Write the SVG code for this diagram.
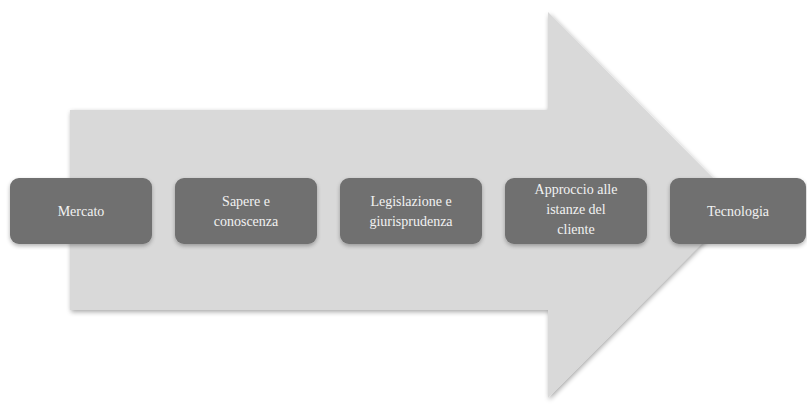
<svg xmlns="http://www.w3.org/2000/svg" width="807" height="411" viewBox="0 0 807 411">
<defs>
<filter id="sh" x="-10%" y="-10%" width="130%" height="130%">
<feGaussianBlur in="SourceAlpha" stdDeviation="2.5"/>
<feOffset dx="1" dy="2" result="b"/>
<feComponentTransfer><feFuncA type="linear" slope="0.35"/></feComponentTransfer>
<feMerge><feMergeNode/><feMergeNode in="SourceGraphic"/></feMerge>
</filter>
<filter id="sh2" x="-10%" y="-10%" width="130%" height="140%">
<feGaussianBlur in="SourceAlpha" stdDeviation="2"/>
<feOffset dx="0" dy="2" result="b"/>
<feComponentTransfer><feFuncA type="linear" slope="0.3"/></feComponentTransfer>
<feMerge><feMergeNode/><feMergeNode in="SourceGraphic"/></feMerge>
</filter>
</defs>
<style>
.box{fill:#6f6f6f;}
.t{font-family:"Liberation Serif","DejaVu Serif",serif;font-size:14px;fill:#f2f2f2;text-anchor:middle;}
</style>
<rect width="807" height="411" fill="#ffffff"/>
<g id="arrow">
<path d="M70 110 L548 110 L548 12 L740 205 L548 398 L548 310 L70 310 Z" fill="#d9d9d9" filter="url(#sh)"/>
</g>
<g id="connectors"></g>
<g id="n1"><rect class="box" x="10" y="178" width="142" height="66" rx="9" filter="url(#sh2)"/><text class="t" x="81" y="216">Mercato</text></g>
<g id="n2"><rect class="box" x="175" y="178" width="142" height="66" rx="9" filter="url(#sh2)"/><text class="t" x="246" y="206">Sapere e</text><text class="t" x="246" y="226">conoscenza</text></g>
<g id="n3"><rect class="box" x="340" y="178" width="142" height="66" rx="9" filter="url(#sh2)"/><text class="t" x="411" y="206">Legislazione e</text><text class="t" x="411" y="226">giurisprudenza</text></g>
<g id="n4"><rect class="box" x="505" y="178" width="142" height="66" rx="9" filter="url(#sh2)"/><text class="t" x="576" y="194">Approccio alle</text><text class="t" x="576" y="214">istanze del</text><text class="t" x="576" y="234">cliente</text></g>
<g id="n5"><rect class="box" x="670" y="178" width="136" height="66" rx="9" filter="url(#sh2)"/><text class="t" x="738" y="216">Tecnologia</text></g>
</svg>
